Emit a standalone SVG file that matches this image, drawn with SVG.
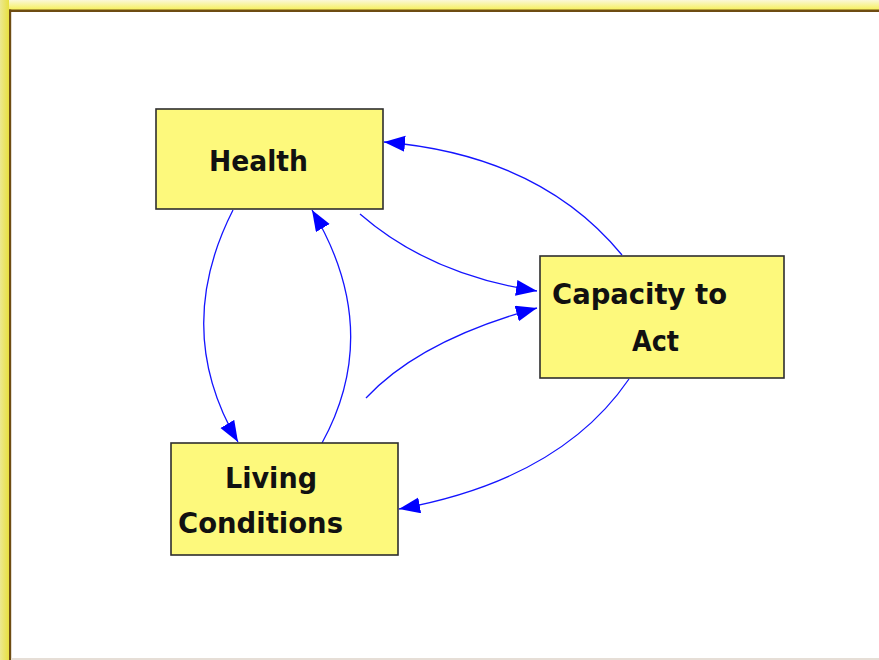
<svg xmlns="http://www.w3.org/2000/svg" width="879" height="660" viewBox="0 0 879 660">
  <defs>
    <linearGradient id="topGlow" x1="0" y1="0" x2="0" y2="1">
      <stop offset="0" stop-color="#fbf8d8"/>
      <stop offset="1" stop-color="#f6f058"/>
    </linearGradient>
    <linearGradient id="leftGlow" x1="0" y1="0" x2="1" y2="0">
      <stop offset="0" stop-color="#ece890"/>
      <stop offset="1" stop-color="#e8e040"/>
    </linearGradient>
    <marker id="arrow" markerUnits="userSpaceOnUse" markerWidth="24" markerHeight="18" refX="21" refY="8" orient="auto">
      <path d="M0,0 L21,8 L0,16 Z" fill="#0000ff"/>
    </marker>
    <style>
      .box { fill: #fdf97c; stroke: #2e2e2e; stroke-width: 1.6; }
      .label { font-family: "DejaVu Sans", "Liberation Sans", sans-serif; font-weight: bold; font-size: 27.5px; fill: #111111; }
      .link { fill: none; stroke: #1414ff; stroke-width: 1.3; marker-end: url(#arrow); }
    </style>
  </defs>

  <!-- page background and frame -->
  <rect x="0" y="0" width="879" height="660" fill="#ffffff"/>
  <rect x="0" y="0" width="879" height="10" fill="url(#topGlow)"/>
  <rect x="0" y="0" width="9" height="660" fill="url(#leftGlow)"/>
  <rect x="9" y="9.5" width="870" height="2.5" fill="#6e4c12"/>
  <rect x="9" y="9.5" width="2.2" height="651" fill="#6e4c12"/>
  <rect x="11" y="658" width="868" height="2" fill="#e6ded6"/>

  <!-- connectors -->
  <g id="connectors">
    <path class="link" d="M622,255 Q540,155 384,142"/>
    <path class="link" d="M360,214 Q430,275 537,291"/>
    <path class="link" d="M366,398 Q420,340 537,308"/>
    <path class="link" d="M629,379 Q560,480 399,509"/>
    <path class="link" d="M233,210 Q172,330 238,442"/>
    <path class="link" d="M322,443 Q384,330 312,210"/>
  </g>

  <!-- nodes -->
  <g id="health">
    <rect class="box" x="156" y="109" width="227" height="100"/>
    <text class="label" x="209" y="171" textLength="99" lengthAdjust="spacingAndGlyphs">Health</text>
  </g>
  <g id="capacity">
    <rect class="box" x="540" y="256" width="244" height="122"/>
    <text class="label" x="552" y="304" textLength="175" lengthAdjust="spacingAndGlyphs">Capacity to</text>
    <text class="label" x="632" y="351" textLength="47" lengthAdjust="spacingAndGlyphs">Act</text>
  </g>
  <g id="living">
    <rect class="box" x="171" y="443" width="227" height="112"/>
    <text class="label" x="225" y="488" textLength="92" lengthAdjust="spacingAndGlyphs">Living</text>
    <text class="label" x="178" y="533" textLength="165" lengthAdjust="spacingAndGlyphs">Conditions</text>
  </g>
</svg>
